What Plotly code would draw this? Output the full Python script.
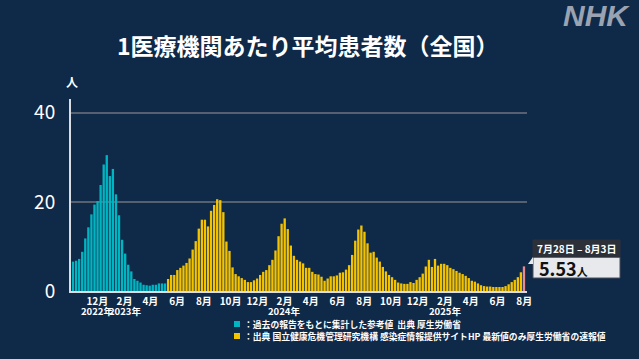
import pandas as pd
import plotly.graph_objects as go

# ---------------- data ----------------
first_week_start = "2022-10-03"  # Monday of first weekly bar

# 過去の報告をもとに集計した参考値 (cyan), weekly
ref_values = [6.6, 6.8, 7.2, 8.8, 11.8, 14.3, 17.2, 19.4, 20.2, 23.8, 28.4, 30.5,
              25.8, 27.4, 21.7, 17.0, 11.5, 8.4, 5.9, 4.4, 2.7, 2.3, 1.9, 1.4,
              1.3, 1.2, 1.4, 1.4, 1.7, 1.7, 1.7]

# 国立健康危機管理研究機構 / 厚生労働省 速報値 (yellow), weekly
jihs_values = [2.7, 3.6, 3.6, 4.7, 5.2, 5.7, 6.3, 7.3, 9.3, 11.2, 14.0, 16.0,
               16.0, 14.5, 18.0, 19.3, 20.6, 20.4, 17.7, 11.1, 9.0, 5.3, 3.8, 3.3,
               2.9, 2.5, 2.0, 2.0, 2.4, 2.8, 3.6,
               4.3, 4.7, 5.8, 7.0, 9.1, 12.3, 15.1, 16.3, 13.9, 10.2, 7.9, 7.0,
               6.6, 6.2, 5.2, 5.2, 4.3, 3.8, 3.7, 3.2, 2.3, 2.8, 3.3, 3.3, 3.5,
               4.1, 4.2, 4.8,
               5.8, 8.1, 11.3, 13.8,
               14.7, 13.3, 10.7, 8.6, 8.8, 7.5, 6.6, 5.4, 4.4, 3.6, 3.1,
               2.5, 1.9, 1.7, 1.6, 1.6, 2.0, 1.8, 2.5, 3.1, 3.9, 5.5, 7.0, 5.4,
               7.2, 5.7, 6.1, 6.1, 5.8, 5.2, 4.9, 4.5,
               4.1, 3.8, 3.4, 2.9, 2.3, 2.1, 1.7, 1.3, 1.1, 1.0, 1.0, 0.9, 0.9,
               0.9, 0.9, 1.1, 1.5, 2.0, 2.5, 3.1, 4.2, 5.53]

tick_dates = ["2022-12-01", "2023-02-01", "2023-04-01", "2023-06-01", "2023-08-01",
              "2023-10-01", "2023-12-01", "2024-02-01", "2024-04-01", "2024-06-01",
              "2024-08-01", "2024-10-01", "2024-12-01", "2025-02-01", "2025-04-01",
              "2025-06-01", "2025-08-01"]
tick_labels = ["12月", "2月", "4月", "6月", "8月", "10月", "12月",
               "2月", "4月", "6月", "8月", "10月", "12月", "2月",
               "4月", "6月", "8月"]
year_dates = ["2022-12-01", "2023-02-01", "2024-02-01", "2025-02-01"]
year_labels = ["2022年", "2023年", "2024年", "2025年"]

y_ticks = [0, 20, 40]
latest_label = "7月28日 – 8月3日"
latest_value = "5.53"

# ---------------- styles ----------------
BG = "#0f2949"
CYAN = "#00b5c2"
YELLOW = "#f4c300"
PINK = "#e68a8c"
FONT = "Noto Sans CJK JP"

n_ref = len(ref_values)
n_all = n_ref + len(jihs_values)
centers = pd.date_range(first_week_start, periods=n_all, freq="7D") + pd.Timedelta(hours=84)
ref_x = centers[:n_ref]
jihs_x = centers[n_ref:]
bar_w = 7 * 86400000 * 0.76

jihs_colors = [YELLOW] * (len(jihs_values) - 1) + [PINK]

fig = go.Figure()
fig.add_trace(go.Bar(x=ref_x, y=ref_values, width=bar_w, marker=dict(color=CYAN, line=dict(width=0)),
                     hoverinfo="skip"))
fig.add_trace(go.Bar(x=jihs_x, y=jihs_values, width=bar_w, marker=dict(color=jihs_colors, line=dict(width=0)),
                     hoverinfo="skip"))

# plot area in pixels: x 71..527, y 99..291
L, R, T, B = 71, 527, 99, 291
W, H = R - L, B - T


def px(x):
    return (x - L) / W


def py(y):
    return (B - y) / H


x0 = centers[0] - pd.Timedelta(days=4.6)
x1 = centers[-1] + pd.Timedelta(days=6.9)

fig.update_layout(
    width=639, height=359,
    margin=dict(l=L, r=639 - R, t=T, b=359 - B, autoexpand=False),
    paper_bgcolor=BG, plot_bgcolor=BG,
    showlegend=False,
    barmode="overlay",
    font=dict(family=FONT, color="white"),
    xaxis=dict(type="date", range=[x0, x1], tickvals=tick_dates, ticktext=tick_labels,
               tickangle=0, automargin=False, ticklabelstandoff=0,
               tickfont=dict(size=10, color="white", family=FONT, weight="bold"),
               showgrid=False, showline=True, linecolor="#d9dde3", linewidth=2,
               ticks="", zeroline=False, fixedrange=True),
    yaxis=dict(range=[0, 43.1], tickvals=y_ticks, tickfont=dict(size=19, color="white", family=FONT),
               showgrid=True, gridcolor="#56606f", gridwidth=1.5, automargin=False,
               showline=True, linecolor="#d9dde3", linewidth=2, ticks="",
               ticklabelstandoff=10, zeroline=False, fixedrange=True),
)

annotations = [
    dict(text="<b>1医療機関あたり平均患者数（全国）</b>", x=px(308), y=py(45), xanchor="center", yanchor="middle",
         showarrow=False, font=dict(size=23, color="white", family=FONT)),
    dict(text="<b><i>NHK</i></b>", x=px(596), y=py(16), xanchor="center", yanchor="middle",
         showarrow=False, font=dict(size=30, color="#9aa3b1", family="Liberation Sans")),
    dict(text="<b>人</b>", x=px(72), y=py(82), xanchor="center", yanchor="middle",
         showarrow=False, font=dict(size=12, color="white", family=FONT)),
    dict(text="<b>：過去の報告をもとに集計した参考値  出典 厚生労働省</b>", x=px(242), y=py(324),
         xanchor="left", yanchor="middle", showarrow=False, font=dict(size=8.8, color="white", family=FONT)),
    dict(text="<b>：出典 国立健康危機管理研究機構 感染症情報提供サイトHP 最新値のみ厚生労働省の速報値</b>",
         x=px(242), y=py(336), xanchor="left", yanchor="middle", showarrow=False,
         font=dict(size=8.8, color="white", family=FONT)),
    dict(text="<b>" + latest_label + "</b>", x=px(576.5), y=py(248.5), xanchor="center", yanchor="middle",
         showarrow=False, font=dict(size=10, color="white", family=FONT)),
    dict(text="<b>" + latest_value + "</b><span style='font-size:11px'><b>人</b></span>", x=px(537), y=py(268),
         xanchor="left", yanchor="middle", showarrow=False, font=dict(size=18, color="#111111", family=FONT)),
]
for a in annotations:
    a.update(xref="paper", yref="paper")
for d, t in zip(year_dates, year_labels):
    annotations.append(dict(text="<b>" + t + "</b>", x=d, xref="x", y=py(311), yref="paper",
                            xanchor="center", yanchor="middle", showarrow=False,
                            font=dict(size=9.5, color="white", family=FONT)))
fig.update_layout(annotations=annotations)

shapes = [
    dict(type="rect", x0=px(234), x1=px(240), y0=py(321), y1=py(327), fillcolor=CYAN, line=dict(width=0)),
    dict(type="rect", x0=px(234), x1=px(240), y0=py(333), y1=py(339), fillcolor=YELLOW, line=dict(width=0)),
    dict(type="rect", x0=px(533), x1=px(620), y0=py(257), y1=py(278), fillcolor="#e7e9ec",
         line=dict(color="#4a4f57", width=1)),
    dict(type="rect", x0=px(533), x1=px(620), y0=py(240), y1=py(257), fillcolor="#2c3038",
         line=dict(color="#2c3038", width=1)),
    dict(type="path", path=f"M {px(533)},{py(257)} L {px(533)},{py(264)} L {px(528)},{py(264)} Z",
         fillcolor="#e7e9ec", line=dict(width=0)),
]
for s in shapes:
    s.update(xref="paper", yref="paper", layer="above")
fig.update_layout(shapes=shapes)

fig.write_html("out.html", config={"displayModeBar": False},
               post_script="document.body.style.margin='0';document.body.style.background='#0f2949';")
